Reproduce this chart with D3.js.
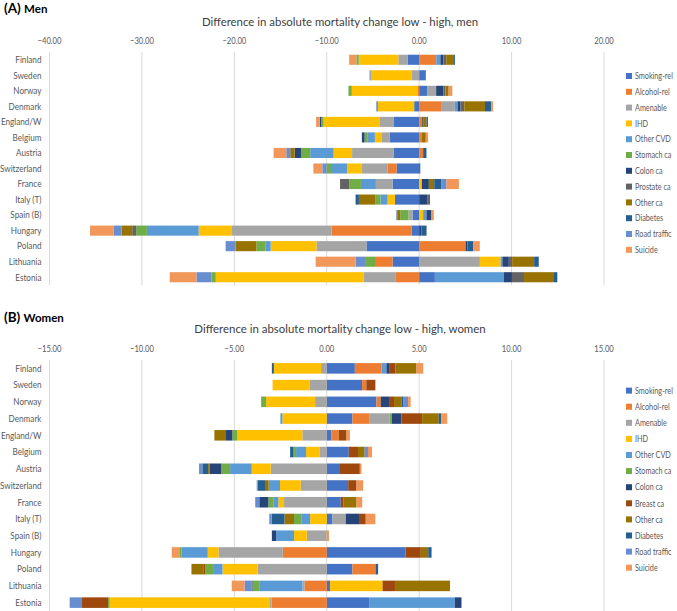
<!DOCTYPE html>
<html><head><meta charset="utf-8">
<script src="https://cdn.jsdelivr.net/npm/d3@7"></script>
<style>body{margin:0;background:#fff}svg{display:block}text{font-family:Lato,"Liberation Sans",sans-serif}</style>
</head><body><svg id="c" width="677" height="611"></svg>
<script>
const countries = ["Finland","Sweden","Norway","Denmark","England/W","Belgium","Austria","Switzerland","France","Italy (T)","Spain (B)","Hungary","Poland","Lithuania","Estonia"];
const menSeries = ["Smoking-rel","Alcohol-rel","Amenable","IHD","Other CVD","Stomach ca","Colon ca","Prostate ca","Other ca","Diabetes","Road traffic","Suicide"];
const womenSeries = ["Smoking-rel","Alcohol-rel","Amenable","IHD","Other CVD","Stomach ca","Colon ca","Breast ca","Other ca","Diabetes","Road traffic","Suicide"];
const menColors = ["#4472C4","#ED7D31","#A5A5A5","#FFC000","#5B9BD5","#70AD47","#264478","#636363","#997300","#255E91","#698ED0","#F1975A"];
const womenColors = ["#4472C4","#ED7D31","#A5A5A5","#FFC000","#5B9BD5","#70AD47","#264478","#9E480E","#997300","#255E91","#698ED0","#F1975A"];
const menTicks = [-40,-30,-20,-10,0,10,20];
const womenTicks = [-15,-10,-5,0,5,10,15];

// Men values, one array per cause (countries in order above)
const menSmoking  = [-1.22,0.72,0.9,-0.54,-2.73,-3.17,-2.73,-2.45,-2.88,-2.63,-0.72,-0.83,-5.7,-2.88,1.7];
const menAlcohol  = [1.85,0,-0.2,2.45,0.3,0.25,0.43,-0.94,0,0,0,-8.66,5.02,-1.8,-2.52];
const menAmenable = [-1.04,-0.79,0.94,1.41,-1.58,-0.86,-4.53,-2.8,-1.8,0,-0.43,-10.76,-5.42,6.57,-3.49];
const menIHD      = [-4.28,-4.46,-7.09,-3.92,-6.04,-0.76,-2.0,-1.62,0.29,-0.79,0.43,-3.61,-4.95,2.24,-16.0];
const menOtherCVD = [0.45,0,0,0.3,0,-0.83,-2.53,-1.73,-1.62,-0.76,0.36,-5.6,-0.58,0.2,7.47];
const menStomach  = [-0.25,0,-0.36,0,-0.25,-0.29,-1.0,-0.47,-1.26,-0.54,-0.9,-1.16,-0.97,-1.08,-0.47];
const menColon    = [0.33,0,0.8,0.29,-0.15,-0.29,-0.69,0,0.76,0.87,0.54,0.25,0.2,0.69,0.87];
const menProstate = [0.3,0,0.2,0.43,0.2,0,0,0,-1.0,0.3,0,-0.43,0,0.36,1.3];
const menOtherCa  = [0.85,0,0.35,2.24,0.3,0.47,-0.47,0,0.58,-1.8,-0.3,-1.16,-2.24,2.38,3.25];
const menDiabetes = [0.1,0,0,0.69,0.15,0,0.36,0.12,0.79,-0.36,-0.1,0.55,0.62,0.5,0.36];
const menRoad     = [0,-0.12,0,-0.18,0,0,-0.43,-0.47,0.54,0,0,-0.87,-1.08,-1.12,-1.62];
const menSuicide  = [-0.79,0,0.4,0.18,-0.4,0.25,-1.37,-0.97,1.34,0,0.25,-2.53,0.72,-4.32,-2.89];

// Women values
const womSmoking  = [1.52,1.91,2.69,1.39,0.25,1.19,0.67,1.16,0.76,0.31,0,4.26,1.39,0.18,2.29];
const womAlcohol  = [1.44,0.23,0.23,0.9,0.4,0,0,0,0,0,0,-2.38,1.25,-1.21,-2.98];
const womAmenable = [-0.31,-0.94,-0.63,1.12,-1.32,-0.4,-3.03,-1.41,-2.31,0.72,-1.08,-3.48,-3.74,-0.1,-0.13];
const womIHD      = [-2.55,-1.99,-2.65,-2.4,-3.52,-0.72,-1.03,-1.12,-0.31,-0.9,-0.69,-0.58,-1.9,2.84,-8.63];
const womOtherCVD = [0.27,0,0,-0.11,0,-0.54,-1.17,-0.61,-0.27,-0.45,-0.97,-1.41,-0.51,-2.31,4.64];
const womStomach  = [0,0,-0.27,0.11,-0.27,-0.14,-0.49,0,-0.27,-0.42,0,-0.09,-0.42,-0.4,-0.09];
const womColon    = [0.18,0,0.45,0.52,-0.34,0,-0.63,0,-0.49,0.76,-0.23,0,0,-0.05,0.36];
const womBreast   = [0.31,0.49,0.27,1.12,0.42,0.5,1.12,0.45,0.13,0.32,0,0.83,-0.08,0.67,-1.41];
const womOtherCa  = [1.14,0,0.4,0.9,-0.63,0.36,-0.07,-0.2,0.72,-0.52,0,0.4,-0.67,2.98,0];
const womDiabetes = [-0.11,0,0.09,0.14,0,-0.18,-0.31,-0.4,0,-0.69,0,0.18,0.14,0,0];
const womRoad     = [0,0,0.27,0,0,0.18,-0.18,-0.05,-0.22,-0.13,0,0,0,-0.38,-0.67];
const womSuicide  = [0.36,0,0.14,0.32,0.18,0.22,0.09,0.36,0.31,0.52,0.12,-0.45,0,-0.69,0];

const menValues = [menSmoking,menAlcohol,menAmenable,menIHD,menOtherCVD,menStomach,menColon,menProstate,menOtherCa,menDiabetes,menRoad,menSuicide];
const womValues = [womSmoking,womAlcohol,womAmenable,womIHD,womOtherCVD,womStomach,womColon,womBreast,womOtherCa,womDiabetes,womRoad,womSuicide];

const svg = d3.select("#c");
const gray = "#595959";

// narrow the glyphs horizontally to mimic a condensed office font
function condense(sel, f){
  sel.each(function(){
    const s = d3.select(this);
    const x = +s.attr("x") || 0, y = +s.attr("y") || 0;
    s.attr("x",0).attr("y",0).attr("transform",`translate(${x},${y}) scale(${f},1)`);
  });
}

function panel(cfg){
  const g = svg.append("g");
  const lab = g.append("text").attr("x",4).attr("y",cfg.labelY).attr("font-weight","bold").attr("fill","#000");
  lab.append("tspan").attr("font-size",13.5).text(cfg.letter+" ");
  lab.append("tspan").attr("font-size",11.5).text(cfg.who);
  const t = g.append("text").attr("x",340).attr("y",cfg.titleY).attr("text-anchor","middle")
    .attr("font-size",12.3).attr("fill","#404040").text(cfg.title);
  condense(t, 0.93);

  const x = d3.scaleLinear().domain(cfg.domain).range([49.5,604]);
  const y = d3.scaleBand().domain(countries).range([cfg.top,cfg.bottom]).paddingInner(cfg.pad).paddingOuter(cfg.pad/2);

  g.append("g").selectAll("line").data(cfg.ticks).join("line")
    .attr("x1",d=>x(d)).attr("x2",d=>x(d)).attr("y1",cfg.top).attr("y2",cfg.bottom)
    .attr("stroke","#d9d9d9").attr("stroke-width",1);
  const tk = g.append("g").selectAll("text").data(cfg.ticks).join("text")
    .attr("x",d=>x(d)).attr("y",cfg.tickY).attr("text-anchor","middle")
    .attr("font-size",9.3).attr("fill",gray).text(d=>d3.format(".2f")(d));
  condense(tk, 0.82);
  const cl = g.append("g").selectAll("text").data(countries).join("text")
    .attr("x",41.5).attr("y",d=>y(d)+y.bandwidth()/2+3.3).attr("text-anchor","end")
    .attr("font-size",9.5).attr("fill",gray).text(d=>d);
  condense(cl, 0.86);

  const rows = countries.map((c,i)=>{const o={country:c}; cfg.series.forEach((s,j)=>o[s]=cfg.values[j][i]); return o;});
  const stack = d3.stack().keys(cfg.series).offset(d3.stackOffsetDiverging)(rows);
  const color = d3.scaleOrdinal().domain(cfg.series).range(cfg.colors);
  g.append("g").selectAll("g").data(stack).join("g").attr("fill",d=>color(d.key))
    .selectAll("rect").data(d=>d).join("rect")
    .attr("x",d=>x(Math.min(d[0],d[1])))
    .attr("width",d=>Math.abs(x(d[1])-x(d[0])))
    .attr("y",d=>y(d.data.country)).attr("height",y.bandwidth());

  const lg = g.append("g").selectAll("g").data(cfg.series).join("g")
    .attr("transform",(d,i)=>`translate(626,${cfg.legY+i*cfg.legStep})`);
  lg.append("rect").attr("x",0).attr("y",-3).attr("width",6).attr("height",6).attr("fill",d=>color(d));
  const lt = lg.append("text").attr("x",9).attr("y",3.2).attr("font-size",9.3).attr("fill",gray).text(d=>d);
  condense(lt, 0.78);
}

panel({letter:"(A)",who:"Men",labelY:13,title:"Difference in absolute mortality change low - high, men",titleY:26,
  domain:[-40,20],ticks:menTicks,tickY:44,top:52,bottom:285,pad:0.35,series:menSeries,values:menValues,colors:menColors,
  legY:76,legStep:15.8});
panel({letter:"(B)",who:"Women",labelY:322,title:"Difference in absolute mortality change low - high, women",titleY:333,
  domain:[-15,15],ticks:womenTicks,tickY:352,top:360,bottom:611,pad:0.37,series:womenSeries,values:womValues,colors:womenColors,
  legY:390.6,legStep:16.1});
</script></body></html>
